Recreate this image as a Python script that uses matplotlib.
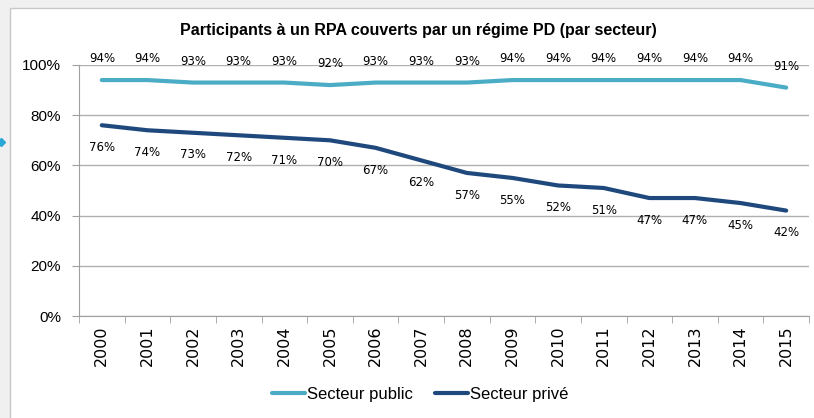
import matplotlib.pyplot as plt
from matplotlib.patches import Rectangle
from matplotlib.lines import Line2D

# data
years = [str(y) for y in range(2000, 2016)]
public = [94, 94, 93, 93, 93, 92, 93, 93, 93, 94, 94, 94, 94, 94, 94, 91]
private = [76, 74, 73, 72, 71, 70, 67, 62, 57, 55, 52, 51, 47, 47, 45, 42]

public_color = '#4BACC6'
private_color = '#1F497D'
narrow = ['Liberation Sans Narrow', 'Liberation Sans', 'DejaVu Sans']

fig = plt.figure(figsize=(8.14, 4.18), dpi=100)
fig.patch.set_facecolor('#f0f0f0')
# white chart frame behind the axes
fig.patches.append(Rectangle((10 / 814, -0.05), 1.1, 1 - 8 / 418 + 0.05,
                             transform=fig.transFigure, facecolor='white',
                             edgecolor='#c8c8c8', linewidth=1, zorder=-5))
# small arrow mark at the left edge
fig.lines.append(Line2D([1 / 814], [1 - 142 / 418], transform=fig.transFigure,
                        marker='D', markersize=4, color='#29a8d8', zorder=-4))

ax = fig.add_axes([79 / 814, (418 - 316) / 418, (809 - 79) / 814, 251 / 418])
ax.set_facecolor('none')
x = list(range(len(years)))
ax.plot(x, public, color=public_color, linewidth=3, solid_capstyle='round',
        label='Secteur public', zorder=3)
ax.plot(x, private, color=private_color, linewidth=3, solid_capstyle='round',
        label='Secteur privé', zorder=3)

for i, v in enumerate(public):
    ax.annotate(f'{v}%', (i, v), xytext=(0, 15.5), textcoords='offset points',
                ha='center', va='center', fontsize=8.5, family='DejaVu Sans')
for i, v in enumerate(private):
    ax.annotate(f'{v}%', (i, v), xytext=(0, -16), textcoords='offset points',
                ha='center', va='center', fontsize=8.5, family='DejaVu Sans')

ax.set_xlim(-0.5, len(years) - 0.5)
ax.set_ylim(0, 100)
ax.set_yticks(range(0, 101, 20))
ax.set_yticklabels([f'{t}%' for t in range(0, 101, 20)], family=narrow, fontsize=11)
ax.set_xticks(x)
ax.set_xticklabels(years, rotation=90, family='DejaVu Sans', fontsize=11.5)
ax.set_xticks([i - 0.5 for i in range(len(years) + 1)], minor=True)
ax.tick_params(axis='x', which='major', length=0, pad=7)
ax.tick_params(axis='x', which='minor', length=5, color='#a0a0a0')
ax.tick_params(axis='y', length=5, color='#a0a0a0', pad=8)
ax.grid(axis='y', color='#b0b0b0', linewidth=1)
ax.set_axisbelow(True)
for side in ['top', 'right']:
    ax.spines[side].set_visible(False)
for side in ['left', 'bottom']:
    ax.spines[side].set_color('#a0a0a0')

fig.text(418 / 814, 1 - 30 / 418, 'Participants à un RPA couverts par un régime PD (par secteur)',
         ha='center', va='center', fontsize=11.5, fontweight='bold', family=narrow)

fig.legend(loc='center', bbox_to_anchor=(420 / 814, 1 - 394 / 418), ncol=2, frameon=False,
           prop={'family': narrow, 'size': 12}, handlelength=2.0, handletextpad=0.1,
           columnspacing=1.3)

fig.savefig('out.png', dpi=100, facecolor=fig.get_facecolor())
